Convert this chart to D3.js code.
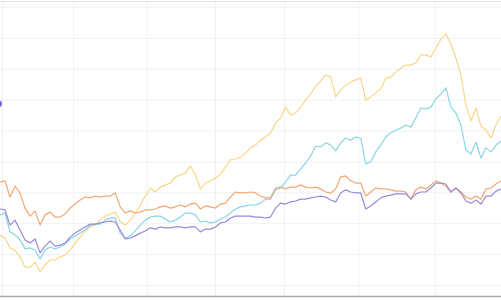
<!DOCTYPE html>
<html>
<head>
<meta charset="utf-8">
<script src="https://cdn.jsdelivr.net/npm/d3@7"></script>
<style>
  body { margin: 0; background: #fff; }
  svg { display: block; }
</style>
</head>
<body>
<div id="plot"></div>
<script>
// Series values (one point per step, index 0..100)
var yellow = [16.2,15.2,12.0,11.3,9.1,5.8,5.8,7.4,4.2,6.5,8.1,8.1,9.1,9.7,11.3,13.6,15.5,17.5,18.8,19.4,
  21.0,22.3,23.0,23.6,20.4,19.4,21.0,23.3,25.9,28.8,31.4,30.1,31.7,32.4,33.0,35.0,35.6,36.3,38.5,35.6,
  31.1,33.0,33.7,34.6,35.9,38.2,40.5,40.8,41.4,42.7,44.4,45.3,46.9,47.9,49.2,52.4,54.1,57.6,55.0,55.7,
  57.6,59.9,61.8,64.4,66.0,68.0,67.3,60.9,63.1,64.7,65.7,66.4,67.0,59.9,60.9,62.2,63.5,67.0,67.3,69.0,
  70.2,71.2,71.2,71.9,74.5,74.5,73.8,76.7,79.6,81.3,78.0,73.5,68.0,58.3,53.1,57.3,51.5,50.2,47.6,51.8,54.7];

var cyan = [22.7,23.3,17.2,16.2,14.6,11.7,12.0,11.3,8.4,11.3,12.3,11.7,12.3,13.3,14.9,15.9,16.8,17.8,19.4,19.7,
  19.7,21.0,21.7,21.7,16.8,15.2,15.9,17.5,19.4,21.0,22.0,22.3,22.3,21.4,20.4,21.0,22.0,23.3,23.3,22.7,
  20.4,20.7,20.1,20.4,21.4,22.0,23.3,24.6,25.3,25.6,25.9,25.9,26.5,27.8,27.8,30.8,31.4,33.3,35.6,35.6,
  37.6,39.5,41.8,45.0,44.7,46.0,45.3,43.4,46.0,47.6,46.9,47.9,47.6,39.2,39.8,43.1,45.3,47.9,49.2,50.2,
  50.8,51.8,51.1,54.1,57.3,57.0,57.6,60.2,61.8,63.8,57.6,55.7,51.8,43.7,42.4,46.3,41.1,44.4,43.1,45.3,46.6];

var orange = [33.3,33.7,28.5,32.0,29.8,24.9,22.3,24.0,19.4,22.7,23.6,22.0,22.0,23.0,24.9,26.2,27.5,28.5,28.2,28.8,
  28.5,28.8,28.8,29.8,25.3,23.3,24.0,23.3,23.6,24.3,24.3,24.6,25.3,25.6,24.9,25.3,25.9,25.3,26.2,26.5,
  24.6,25.6,25.3,24.9,26.2,26.5,28.5,30.1,29.8,29.8,30.1,29.8,28.8,28.2,28.2,31.4,31.7,31.1,31.7,31.7,
  32.4,31.7,31.4,31.7,31.1,30.1,29.8,31.1,35.0,35.3,33.7,33.0,33.0,28.8,30.1,31.4,31.1,31.1,30.8,30.4,
  30.4,30.1,27.8,30.8,31.7,31.1,32.4,33.7,33.0,32.0,30.1,31.4,30.1,28.5,27.8,28.8,27.8,31.1,31.4,32.7,33.7];

var purple = [24.6,24.3,19.4,21.0,17.8,14.6,13.6,14.9,10.4,12.6,14.2,12.6,12.9,13.6,15.5,16.8,17.8,18.8,19.7,19.7,
  20.1,20.4,20.7,20.4,17.8,14.9,15.2,15.9,16.8,17.5,18.5,18.1,18.8,18.5,18.5,18.8,18.8,18.5,18.8,18.8,
  17.2,18.1,18.1,18.8,20.1,20.4,21.7,22.3,22.3,22.3,22.3,22.0,22.0,21.7,22.0,24.9,26.5,26.2,26.9,27.2,
  27.8,27.8,28.2,28.5,28.8,28.5,27.5,26.9,29.8,30.8,30.1,29.8,29.8,24.6,25.6,26.9,28.2,28.8,29.1,29.5,
  29.5,29.5,27.8,29.5,30.1,30.1,31.4,33.0,33.0,32.7,30.1,31.4,29.8,27.2,26.5,27.5,26.2,28.8,28.8,30.4,31.1];

var seriesNames = ["yellow", "cyan", "orange", "purple"];
var seriesColors = ["#f9d68a", "#8ad6e4", "#f2a873", "#9d88d6"];

// grid positions (x in step units, y in value units)
var xGridTicks = [0.4, 14.6, 29.3, 42.9, 56.7, 71.5, 86.8];
var yGridTicks = [0, 10, 20, 30, 40, 50, 60, 70, 80, 90];

var width = 501, height = 300;
var plotBottom = 296.5;

var svg = d3.select("#plot").append("svg")
    .attr("width", width)
    .attr("height", height);

var xScale = d3.scaleLinear().domain([0, 100]).range([0, width]);
var yScale = d3.scaleLinear().domain([0, 90]).range([285, 7]);

// horizontal grid
svg.append("g")
    .attr("transform", "translate(0,0)")
    .call(d3.axisLeft(yScale).tickValues(yGridTicks).tickSize(-width).tickFormat(""))
    .call(function(g) { g.select(".domain").remove(); })
    .selectAll("line")
      .attr("stroke", "#eef2f6");

// vertical grid
svg.append("g")
    .attr("transform", "translate(0," + plotBottom + ")")
    .call(d3.axisBottom(xScale).tickValues(xGridTicks).tickSize(-plotBottom).tickFormat(""))
    .call(function(g) { g.select(".domain").remove(); })
    .selectAll("line")
      .attr("stroke", "#eef2f6");

// top border
svg.append("line")
    .attr("x1", 0).attr("x2", width)
    .attr("y1", 1.5).attr("y2", 1.5)
    .attr("stroke", "#e4e4ea");

// bottom axis line
svg.append("line")
    .attr("x1", 0).attr("x2", width)
    .attr("y1", plotBottom).attr("y2", plotBottom)
    .attr("stroke", "#a9a9a9")
    .attr("stroke-width", 1.6);

var line = d3.line()
    .x(function(d, i) { return xScale(i); })
    .y(function(d) { return yScale(d); });

var allSeries = [yellow, cyan, orange, purple];

svg.selectAll(".series")
    .data(allSeries)
  .enter().append("path")
    .attr("class", "series")
    .attr("fill", "none")
    .attr("stroke", function(d, i) { return seriesColors[i]; })
    .attr("stroke-width", 1.2)
    .attr("stroke-linejoin", "round")
    .attr("d", line);

// marker cut off at the left edge
svg.append("circle")
    .attr("cx", -1.5)
    .attr("cy", yScale(58.7))
    .attr("r", 3.5)
    .attr("fill", "#7c5ce0");
</script>
</body>
</html>
